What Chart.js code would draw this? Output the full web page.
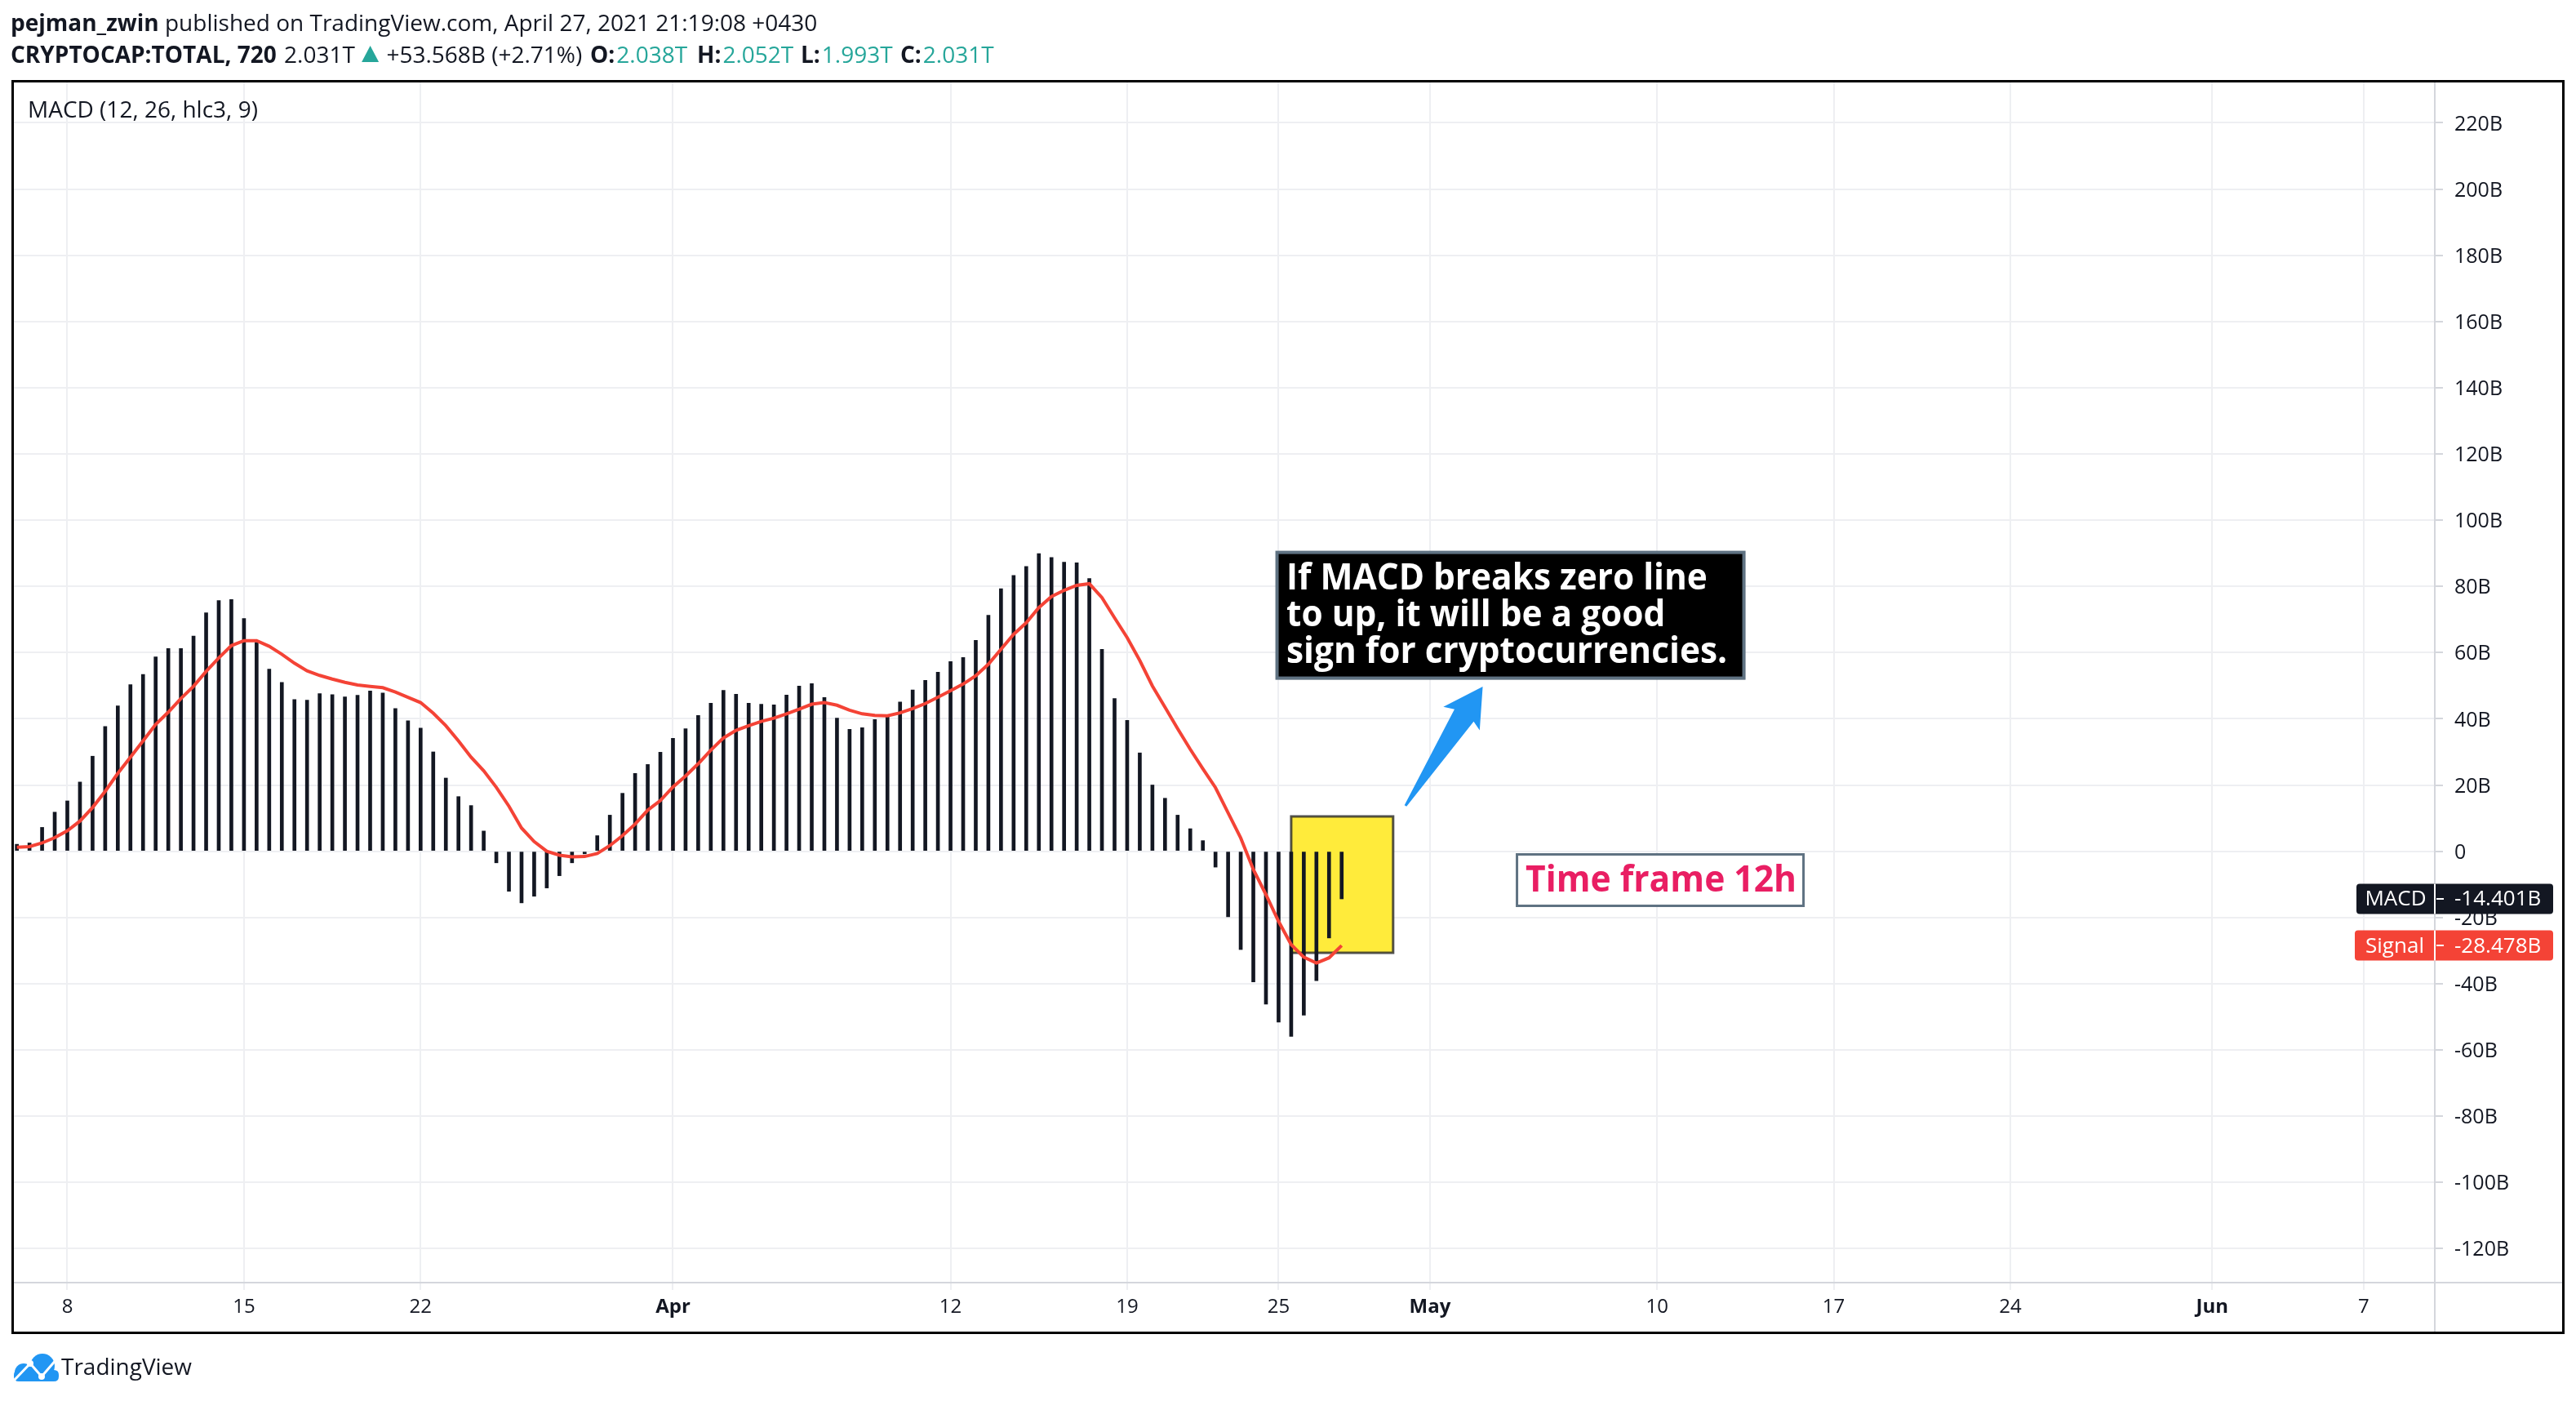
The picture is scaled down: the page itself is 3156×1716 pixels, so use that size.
<!DOCTYPE html>
<html><head><meta charset="utf-8">
<script src="https://cdn.jsdelivr.net/npm/chart.js@4.4.0/dist/chart.umd.min.js"></script>
<style>html,body{margin:0;padding:0;background:#fff;overflow:hidden}canvas{display:block}</style>
</head><body>
<canvas id="c" width="3156" height="1716" style="width:3156px;height:1716px"></canvas>
<script>
// ---- DATA (values in billions USD) ----
const macd = [
  2.1, 2.5, 7.2, 11.8, 15.2, 20.9, 28.7, 37.7, 43.9, 50.3,
  53.4, 58.7, 61.2, 61.2, 65.0, 72.0, 75.7, 76.0, 70.3, 63.1,
  55.0, 51.0, 45.8, 45.6, 47.6, 47.3, 46.6, 47.1, 48.4, 47.8,
  43.1, 39.4, 37.2, 30.0, 22.1, 16.5, 13.8, 6.1, -3.5, -12.1,
  -15.6, -13.6, -11.1, -7.4, -3.5, -0.8, 4.7, 10.9, 17.5, 23.5,
  26.2, 29.9, 34.1, 37.0, 41.0, 44.7, 48.6, 47.4, 44.7, 44.4,
  44.2, 47.2, 49.9, 50.6, 46.4, 40.2, 36.8, 37.3, 39.8, 40.5,
  45.1, 48.7, 51.6, 54.1, 57.3, 58.5, 63.7, 71.3, 79.3, 83.3,
  86.0, 89.9, 88.7, 87.3, 87.1, 82.4, 61.0, 46.1, 39.5, 29.7,
  20.0, 16.0, 10.9, 6.8, 3.2, -4.8, -19.8, -29.7, -39.5, -46.2,
  -51.6, -55.9, -49.5, -39.1, -26.2, -14.401
];
const signal = [
  1.2, 1.4, 2.5, 4.1, 6.2, 9.1, 13.2, 18.1, 23.5, 28.4,
  33.3, 38.3, 42.0, 46.1, 49.8, 54.3, 58.4, 62.1, 63.6, 63.6,
  61.9, 59.5, 56.8, 54.5, 53.1, 52.0, 51.0, 50.2, 49.8, 49.4,
  48.1, 46.5, 44.9, 41.7, 37.9, 33.3, 28.4, 24.3, 19.3, 13.6,
  7.0, 2.9, 0.0, -1.2, -1.7, -1.6, -0.7, 1.7, 4.7, 8.2,
  12.4, 15.3, 19.4, 22.7, 26.4, 30.5, 34.2, 36.5, 37.9, 39.2,
  40.2, 41.5, 42.9, 44.4, 44.9, 44.1, 42.6, 41.5, 41.0, 40.9,
  41.8, 43.1, 44.6, 46.5, 48.5, 50.5, 53.0, 56.5, 61.0, 65.5,
  69.0, 73.6, 76.9, 78.8, 80.3, 80.8, 76.6, 70.5, 64.5, 57.6,
  49.9, 43.5, 37.0, 30.8, 24.9, 19.2, 11.6, 4.0, -5.5, -13.1,
  -21.2, -28.2, -32.0, -33.8, -32.2, -28.478
];
// 12h bar open times (UTC)
const categories = [];
for (let i = 0; i < macd.length; i++) categories.push(new Date(Date.UTC(2021, 2, 6) + i * 43200000).toISOString().slice(0, 16));
const ORIGIN = Date.UTC(2021, 2, 1);
const dayOf = s => (Date.parse(s + ':00Z') - ORIGIN) / 86400000; // days since Mar 1

const xTickDays   = [7, 14, 21, 31, 42, 49, 55, 61, 70, 77, 84, 92, 98];
const xTickLabels = ['8', '15', '22', 'Apr', '12', '19', '25', 'May', '10', '17', '24', 'Jun', '7'];
const monthLabels = ['Apr', 'May', 'Jun'];
const yTicks = [220, 200, 180, 160, 140, 120, 100, 80, 60, 40, 20, 0, -20, -40, -60, -80, -100, -120];

const headerLine1 = ['pejman_zwin', ' published on TradingView.com, April 27, 2021 21:19:08 +0430'];
const headerLine2 = [
  {t: 'CRYPTOCAP:TOTAL, 720', b: 1}, {t: ' 2.031T '}, {tri: 1}, {t: ' +53.568B (+2.71%) '},
  {t: 'O:', b: 1, at: 723}, {t: '2.038T', c: 1}, {t: 'H:', b: 1, at: 854}, {t: '2.052T', c: 1},
  {t: 'L:', b: 1, at: 981}, {t: '1.993T', c: 1}, {t: 'C:', b: 1, at: 1103}, {t: '2.031T', c: 1}
];
const indicatorTitle = 'MACD (12, 26, hlc3, 9)';
const noteLines = ['If MACD breaks zero line', 'to up, it will be a good', 'sign for cryptocurrencies.'];
const timeFrameText = 'Time frame 12h';

// annotation anchors in data space (day since Mar 1, value in B)
const notePos   = {x: 54.89, y: 90.63};
const rectPos   = {x1: 55.50, y1: 10.51, x2: 59.54, y2: -30.68};
const arrowPos  = {x1: 60.03, y1: 13.71, x2: 63.09, y2: 49.72};
const tfPos     = {x: 64.40, y: -0.59};

const C_BAR = '#131722', C_SIG = '#f44336', C_TEAL = '#26a69a', C_GRID = '#eeeff2', C_SEP = '#d4d6dc';
const FONT = "'Open Sans', 'DejaVu Sans', sans-serif";

function fitText(ctx, text, x, y, w) {
  const m = ctx.measureText(text).width;
  ctx.save(); ctx.translate(x, y); ctx.scale(w / m, 1); ctx.fillText(text, 0, 0); ctx.restore();
}
function roundRect(ctx, x, y, w, h, r) {
  ctx.beginPath();
  ctx.moveTo(x + r, y); ctx.lineTo(x + w - r, y); ctx.quadraticCurveTo(x + w, y, x + w, y + r);
  ctx.lineTo(x + w, y + h - r); ctx.quadraticCurveTo(x + w, y + h, x + w - r, y + h);
  ctx.lineTo(x + r, y + h); ctx.quadraticCurveTo(x, y + h, x, y + h - r);
  ctx.lineTo(x, y + r); ctx.quadraticCurveTo(x, y, x + r, y); ctx.closePath();
}

const annot = {
  id: 'annot',
  beforeDraw(chart) {
    const ctx = chart.ctx; ctx.save(); ctx.fillStyle = '#fff'; ctx.fillRect(0, 0, chart.width, chart.height); ctx.restore();
  },
  beforeDatasetsDraw(chart) {
    const ctx = chart.ctx, xs = chart.scales.x, ys = chart.scales.y;
    const x1 = xs.getPixelForValue(rectPos.x1), x2 = xs.getPixelForValue(rectPos.x2);
    const y1 = ys.getPixelForValue(rectPos.y1), y2 = ys.getPixelForValue(rectPos.y2);
    ctx.save();
    ctx.fillStyle = '#ffeb3b'; ctx.fillRect(x1, y1, x2 - x1, y2 - y1);
    ctx.strokeStyle = 'rgba(40,40,40,0.8)'; ctx.lineWidth = 3; ctx.strokeRect(x1, y1, x2 - x1, y2 - y1);
    ctx.restore();
  },
  afterDatasetsDraw(chart) {
    const ctx = chart.ctx, xs = chart.scales.x, ys = chart.scales.y;
    ctx.save();
    // arrow
    const tx = xs.getPixelForValue(arrowPos.x1), ty = ys.getPixelForValue(arrowPos.y1);
    const px = xs.getPixelForValue(arrowPos.x2), py = ys.getPixelForValue(arrowPos.y2);
    const L = Math.hypot(px - tx, py - ty), ux = (px - tx) / L, uy = (py - ty) / L, nx = -uy, ny = ux;
    const pt = (a, b) => [px + ux * a + nx * b, py + uy * a + ny * b];
    const poly = [[tx - nx * 1.5, ty - ny * 1.5], pt(-42, -14), pt(-47, -27), [px, py], pt(-47, 26), pt(-42, 14), [tx + nx * 1.5, ty + ny * 1.5]];
    ctx.fillStyle = '#2196f3'; ctx.beginPath();
    poly.forEach((p, i) => i ? ctx.lineTo(p[0], p[1]) : ctx.moveTo(p[0], p[1]));
    ctx.closePath(); ctx.fill();
    // note box
    const bx = xs.getPixelForValue(notePos.x), by = ys.getPixelForValue(notePos.y);
    ctx.fillStyle = '#000'; ctx.fillRect(bx, by, 575, 157);
    ctx.strokeStyle = '#5f7282'; ctx.lineWidth = 4; ctx.strokeRect(bx + 1.5, by + 1.5, 572, 154);
    ctx.fillStyle = '#fff'; ctx.font = '700 44px ' + FONT; ctx.textBaseline = 'alphabetic';
    const sc = 540 / ctx.measureText(noteLines[2]).width;
    noteLines.forEach((t, i) => {
      ctx.save(); ctx.translate(bx + 13, by + 47 + i * 45); ctx.scale(sc, 1); ctx.fillText(t, 0, 0); ctx.restore();
    });
    // time frame box
    const fx = xs.getPixelForValue(tfPos.x), fy = ys.getPixelForValue(tfPos.y);
    ctx.fillStyle = '#fff'; ctx.fillRect(fx, fy, 354, 66);
    ctx.strokeStyle = '#5f7282'; ctx.lineWidth = 3; ctx.strokeRect(fx + 1.5, fy + 1.5, 351, 63);
    ctx.fillStyle = '#e91e63'; ctx.font = '700 44px ' + FONT;
    fitText(ctx, timeFrameText, fx + 12, fy + 47, 332);
    ctx.restore();
  },
  afterDraw(chart) {
    const ctx = chart.ctx, ys = chart.scales.y, ca = chart.chartArea;
    ctx.save();
    // separators
    ctx.strokeStyle = C_SEP; ctx.lineWidth = 2;
    ctx.beginPath(); ctx.moveTo(ca.left, ca.bottom); ctx.lineTo(3141, ca.bottom);
    ctx.moveTo(ca.right, ca.top); ctx.lineTo(ca.right, 1632); ctx.stroke();
    // frame
    ctx.strokeStyle = '#000'; ctx.lineWidth = 3; ctx.strokeRect(15.5, 99.5, 3125, 1533);
    // header
    ctx.textBaseline = 'alphabetic'; ctx.fillStyle = '#131722';
    let x = 13;
    ctx.font = '700 28px ' + FONT; ctx.fillText(headerLine1[0], x, 38); x += ctx.measureText(headerLine1[0]).width;
    ctx.font = '400 28px ' + FONT; ctx.fillText(headerLine1[1], x, 38);
    x = 13;
    headerLine2.forEach(r => {
      if (r.tri) {
        ctx.fillStyle = C_TEAL; ctx.beginPath(); ctx.moveTo(x + 1, 76); ctx.lineTo(x + 22, 76); ctx.lineTo(x + 11.5, 56); ctx.closePath(); ctx.fill();
        x += 24; return;
      }
      if (r.at) x = r.at;
      ctx.font = (r.b ? '700' : '400') + ' 28px ' + FONT;
      ctx.fillStyle = r.c ? C_TEAL : '#131722';
      ctx.fillText(r.t, x, 77); x += ctx.measureText(r.t).width + (r.b ? 2 : 0);
    });
    // indicator title
    ctx.fillStyle = '#131722'; ctx.font = '400 28px ' + FONT; ctx.fillText(indicatorTitle, 34, 144);
    // price labels
    const lbl = (name, val, color, lw) => {
      const yc = ys.getPixelForValue(val);
      ctx.fillStyle = color;
      roundRect(ctx, 2983 - lw, yc - 18.5, lw + 145, 37, 4); ctx.fill();
      ctx.strokeStyle = '#fff'; ctx.lineWidth = 2;
      ctx.beginPath(); ctx.moveTo(2983, yc - 18.5); ctx.lineTo(2983, yc + 18.5); ctx.moveTo(2985, yc); ctx.lineTo(2994, yc); ctx.stroke();
      ctx.fillStyle = '#fff'; ctx.font = '400 26px ' + FONT; ctx.textBaseline = 'middle';
      ctx.textAlign = 'center'; ctx.fillText(name, 2983 - lw / 2, yc + 1);
      ctx.textAlign = 'left'; ctx.fillText(val.toFixed(3) + 'B', 3007, yc + 1);
    };
    lbl('MACD', macd[macd.length - 1], C_BAR, 96);
    lbl('Signal', signal[signal.length - 1], C_SIG, 98);
    // TradingView logo
    ctx.textAlign = 'left'; ctx.textBaseline = 'alphabetic';
    ctx.fillStyle = '#2196f3';
    ctx.beginPath(); ctx.arc(52, 1673, 15, 0, Math.PI * 2); ctx.fill();
    ctx.beginPath(); ctx.arc(29, 1681, 11, 0, Math.PI * 2); ctx.fill();
    roundRect(ctx, 17, 1678, 55, 14, 6); ctx.fill();
    ctx.strokeStyle = '#fff'; ctx.lineWidth = 3; ctx.lineJoin = 'round';
    ctx.beginPath(); ctx.moveTo(16, 1692); ctx.lineTo(37, 1670); ctx.lineTo(51, 1686); ctx.lineTo(70, 1664); ctx.stroke();
    ctx.fillStyle = '#fff';
    [[37, 1670], [51, 1686]].forEach(p => { ctx.beginPath(); ctx.arc(p[0], p[1], 4, 0, Math.PI * 2); ctx.fill(); });
    ctx.fillStyle = '#131722'; ctx.font = '400 27px ' + FONT;
    fitText(ctx, 'TradingView', 75, 1684, 160);
    ctx.restore();
  }
};

Chart.defaults.font.family = FONT;
new Chart(document.getElementById('c'), {
  type: 'bar',
  data: {
    datasets: [
      {
        type: 'line', label: 'Signal', order: 0,
        data: categories.map((c, i) => ({x: dayOf(c), y: signal[i]})),
        borderColor: C_SIG, borderWidth: 4, pointRadius: 0, tension: 0, fill: false
      },
      {
        type: 'bar', label: 'MACD', order: 1,
        data: categories.map((c, i) => ({x: dayOf(c), y: macd[i]})),
        backgroundColor: C_BAR, barThickness: 4, borderWidth: 0
      }
    ]
  },
  options: {
    responsive: false, animation: false, devicePixelRatio: 1,
    layout: {padding: {left: 16, top: 101, right: 0, bottom: 0}},
    plugins: {legend: {display: false}, tooltip: {enabled: false}},
    scales: {
      x: {
        type: 'linear', position: 'bottom', min: 4.849, max: 100.82, offset: false,
        afterFit: s => { s.height = 145; },
        afterBuildTicks: s => { s.ticks = xTickDays.map(v => ({value: v})); },
        ticks: {
          autoSkip: false, maxRotation: 0, color: '#131722', padding: 7,
          callback: (v, i) => xTickLabels[i],
          font: c => ({size: 24, weight: monthLabels.includes(xTickLabels[c.index]) ? '700' : '400'})
        },
        grid: {offset: false, color: C_GRID, lineWidth: 2, tickLength: 9, tickColor: C_GRID, drawTicks: true},
        border: {display: false}
      },
      y: {
        type: 'linear', position: 'right', min: -130.3, max: 232.2,
        afterFit: s => { s.width = 173; },
        afterBuildTicks: s => { s.ticks = yTicks.map(v => ({value: v})); },
        ticks: {
          autoSkip: false, color: '#131722', padding: 14, font: {size: 25}, labelOffset: 2,
          callback: v => v === 0 ? '0' : v + 'B'
        },
        grid: {color: C_GRID, lineWidth: 2, tickLength: 10, tickColor: C_SEP, drawTicks: true},
        border: {display: false}
      }
    }
  },
  plugins: [annot]
});
</script>
</body></html>
